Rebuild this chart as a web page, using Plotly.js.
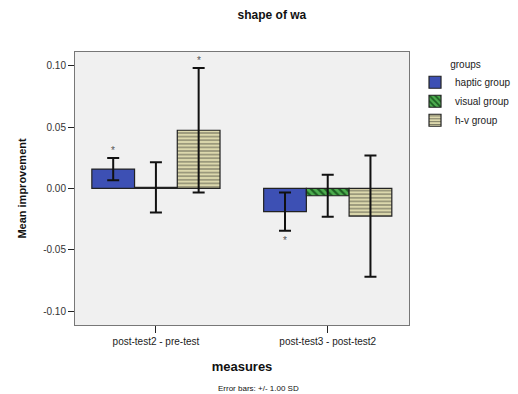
<!DOCTYPE html>
<html>
<head>
<meta charset="utf-8">
<script src="https://cdn.plot.ly/plotly-3.0.1.min.js"></script>
<style>html,body{margin:0;padding:0;background:#fff;}#chart{width:518px;height:394px;}</style>
</head>
<body>
<div id="chart"></div>
<script>
const categories = ["post-test2 - pre-test", "post-test3 - post-test2"];
const groups = ["haptic group", "visual group", "h-v group"];
const hapticMean = [0.0157, -0.0189];
const hapticSD = [0.0090, 0.0156];
const visualMean = [0.0008, -0.0060];
const visualSD = [0.0205, 0.0171];
const hvMean = [0.0474, -0.0226];
const hvSD = [0.0507, 0.0494];
const hapticStar = ["above", "below"];
const visualStar = ["", ""];
const hvStar = ["above", ""];
const yTickVals = [-0.10, -0.05, 0.00, 0.05, 0.10];
const yTickText = ["-0.10", "-0.05", "0.00", "0.05", "0.10"];

const FONT = "Liberation Sans, Arial, sans-serif";
const styles = [
  {color: "#3d50b4", pattern: {shape: ""}},
  {color: "#4dae4f", pattern: {shape: "\\", fgcolor: "#1d5e22", bgcolor: "#4dae4f", size: 5, solidity: 0.45}},
  {color: "#dcd8ad", pattern: {shape: "-", fgcolor: "#5a5a4a", bgcolor: "#dcd8ad", size: 3.6, solidity: 0.25}}
];
const means = [hapticMean, visualMean, hvMean];
const sds = [hapticSD, visualSD, hvSD];
const stars = [hapticStar, visualStar, hvStar];

const traces = groups.map((g, i) => ({
  type: "bar",
  name: g,
  x: categories,
  y: means[i],
  error_y: {type: "data", array: sds[i], visible: true, color: "#111", thickness: 2, width: 6},
  marker: {color: styles[i].color, pattern: styles[i].pattern, line: {color: "#222", width: 1.2}},
  hoverinfo: "none"
}));

const annotations = [];
groups.forEach((g, i) => {
  categories.forEach((c, j) => {
    const s = stars[i][j];
    if (!s) return;
    const y = s === "above" ? means[i][j] + sds[i][j] : means[i][j] - sds[i][j];
    annotations.push({
      x: c, y: y, xref: "x", yref: "y",
      text: "*", showarrow: false,
      xshift: (i - 1) * 42.8,
      yshift: s === "above" ? 8 : -10,
      font: {family: FONT, size: 10, color: "#555"}
    });
  });
});
annotations.push({
  text: "Error bars: +/- 1.00 SD", xref: "paper", yref: "paper",
  x: 0.55, y: -0.208, yanchor: "top", showarrow: false,
  font: {family: FONT, size: 8, color: "#111"}
});

const layout = {
  width: 518, height: 394,
  margin: {l: 75, r: 109, t: 52, b: 69, autoexpand: false},
  paper_bgcolor: "#ffffff",
  plot_bgcolor: "#f0f0f0",
  title: {text: "shape of wa", x: 0.525, xanchor: "center", y: 0.962, yanchor: "middle",
          font: {family: FONT, size: 12, weight: "bold", color: "#111"}},
  barmode: "group",
  bargap: 0.254,
  bargroupgap: 0,
  showlegend: true,
  legend: {
    x: 1.018, xanchor: "left", y: 0.99, yanchor: "top",
    title: {text: "groups", side: "top center", font: {family: FONT, size: 10, color: "#222"}},
    font: {family: FONT, size: 10, color: "#222"},
    bgcolor: "rgba(0,0,0,0)", tracegroupgap: 0, itemwidth: 30
  },
  xaxis: {
    type: "category",
    range: [-0.471, 1.473],
    showline: true, mirror: true, linecolor: "#777", linewidth: 1,
    ticks: "outside", ticklen: 7, tickcolor: "#222", tickwidth: 1,
    tickfont: {family: FONT, size: 10, color: "#222"},
    showgrid: false, zeroline: false,
    title: {text: "measures", standoff: 15, font: {family: FONT, size: 13, weight: "bold", color: "#111"}}
  },
  yaxis: {
    range: [-0.1114, 0.1112],
    tickvals: yTickVals, ticktext: yTickText,
    showline: true, mirror: true, linecolor: "#777", linewidth: 1,
    ticks: "outside", ticklen: 6, tickcolor: "#222", tickwidth: 1,
    tickfont: {family: FONT, size: 10, color: "#333"},
    showgrid: false, zeroline: false,
    title: {text: "Mean improvement", standoff: 14, font: {family: FONT, size: 11, weight: "bold", color: "#111"}}
  },
  annotations: annotations
};

Plotly.newPlot("chart", traces, layout, {displayModeBar: false, staticPlot: true});
</script>
</body>
</html>
